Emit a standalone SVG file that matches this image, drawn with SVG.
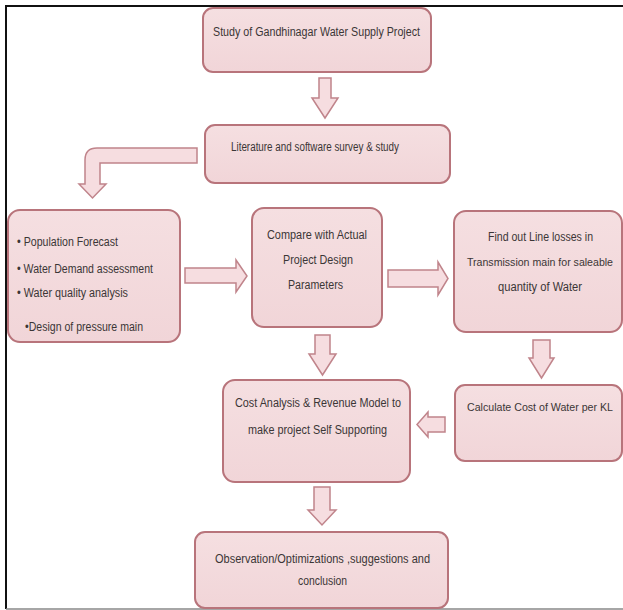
<svg xmlns="http://www.w3.org/2000/svg" width="623" height="610" viewBox="0 0 623 610">
<defs>
<linearGradient id="g" x1="0" y1="0" x2="0" y2="1">
<stop offset="0" stop-color="#f5dfe1"/>
<stop offset="1" stop-color="#f1d5d8"/>
</linearGradient>
<style>
.box{fill:url(#g);stroke:#b8747b;stroke-width:2}
.arr{fill:#f6dde0;stroke:#c0848b;stroke-width:1.5;stroke-linejoin:miter}
text{font-family:"Liberation Sans","DejaVu Sans",sans-serif;font-size:12px;fill:#3b3636}
</style>
</defs>
<rect x="0" y="0" width="623" height="610" fill="#ffffff"/>
<g id="frame">
<line x1="6" y1="6" x2="623" y2="6" stroke="#111" stroke-width="2"/>
<line x1="6" y1="5" x2="6" y2="609" stroke="#111" stroke-width="2"/>
<line x1="6" y1="609" x2="623" y2="609" stroke="#888" stroke-width="1.5"/>
</g>
<g id="connectors">
<path class="arr" d="M319,78 H331 V98 H338 L325,118 L312,98 H319 Z"/>
<path class="arr" d="M197,148 V163 H100 V184 H106 L92.5,198 L79,184 H85 V160 Q85,148 97,148 Z"/>
<path class="arr" d="M185,268 H236 V260 L247,276 L236,292 V283 H185 Z"/>
<path class="arr" d="M388,270 H438 V262 L448,278.5 L438,295 V287 H388 Z"/>
<path class="arr" d="M315,335 H330 V354 H336 L322.5,375 L309,354 H315 Z"/>
<path class="arr" d="M533,340 H550 V358 H554 L541.5,378 L529,358 H533 Z"/>
<path class="arr" d="M445,417 V432 H428 V437 L417,424.5 L428,412 V417 Z"/>
<path class="arr" d="M314,487 H330 V510 H336 L322,525 L308,510 H314 Z"/>
</g>
<g id="n1">
<rect class="box" x="203" y="8" width="228" height="64" rx="10"/>
<text x="213" y="36" textLength="207" lengthAdjust="spacingAndGlyphs">Study of Gandhinagar Water Supply Project</text>
</g>
<g id="n2">
<rect class="box" x="205" y="125" width="245" height="58" rx="10"/>
<text x="231" y="151" textLength="168" lengthAdjust="spacingAndGlyphs">Literature and software survey &amp;  study</text>
</g>
<g id="n3">
<rect class="box" x="8" y="210" width="172" height="132" rx="12"/>
<text x="17" y="246" textLength="101" lengthAdjust="spacingAndGlyphs">• Population Forecast</text>
<text x="17" y="273" textLength="136" lengthAdjust="spacingAndGlyphs">• Water Demand assessment</text>
<text x="17" y="297" textLength="111" lengthAdjust="spacingAndGlyphs">• Water quality analysis</text>
<text x="25" y="331" textLength="118" lengthAdjust="spacingAndGlyphs">•Design of pressure main</text>
</g>
<g id="n4">
<rect class="box" x="252" y="208" width="130" height="119" rx="12"/>
<text x="267" y="239" textLength="100" lengthAdjust="spacingAndGlyphs">Compare with Actual</text>
<text x="283" y="264" textLength="70" lengthAdjust="spacingAndGlyphs">Project Design</text>
<text x="288" y="289" textLength="55" lengthAdjust="spacingAndGlyphs">Parameters</text>
</g>
<g id="n5">
<rect class="box" x="454" y="211" width="168" height="121" rx="12"/>
<text x="488" y="241" textLength="105" lengthAdjust="spacingAndGlyphs">Find out Line losses in</text>
<text x="467" y="266" font-size="11" textLength="146" lengthAdjust="spacingAndGlyphs" style="font-size:11px">Transmission main for saleable</text>
<text x="498" y="291" textLength="84" lengthAdjust="spacingAndGlyphs">quantity of Water</text>
</g>
<g id="n6">
<rect class="box" x="223" y="380" width="187" height="102" rx="12"/>
<text x="235" y="407" textLength="166" lengthAdjust="spacingAndGlyphs">Cost Analysis &amp; Revenue Model to</text>
<text x="248" y="434" textLength="139" lengthAdjust="spacingAndGlyphs">make project Self Supporting</text>
</g>
<g id="n7">
<rect class="box" x="455" y="385" width="167" height="76" rx="10"/>
<text x="467" y="411" textLength="146" lengthAdjust="spacingAndGlyphs" style="font-size:10.5px">Calculate Cost of  Water per KL</text>
</g>
<g id="n8">
<rect class="box" x="195" y="532" width="253" height="76" rx="10"/>
<text x="215" y="563" textLength="215" lengthAdjust="spacingAndGlyphs">Observation/Optimizations ,suggestions and</text>
<text x="298" y="585" textLength="49" lengthAdjust="spacingAndGlyphs">conclusion</text>
</g>
</svg>
